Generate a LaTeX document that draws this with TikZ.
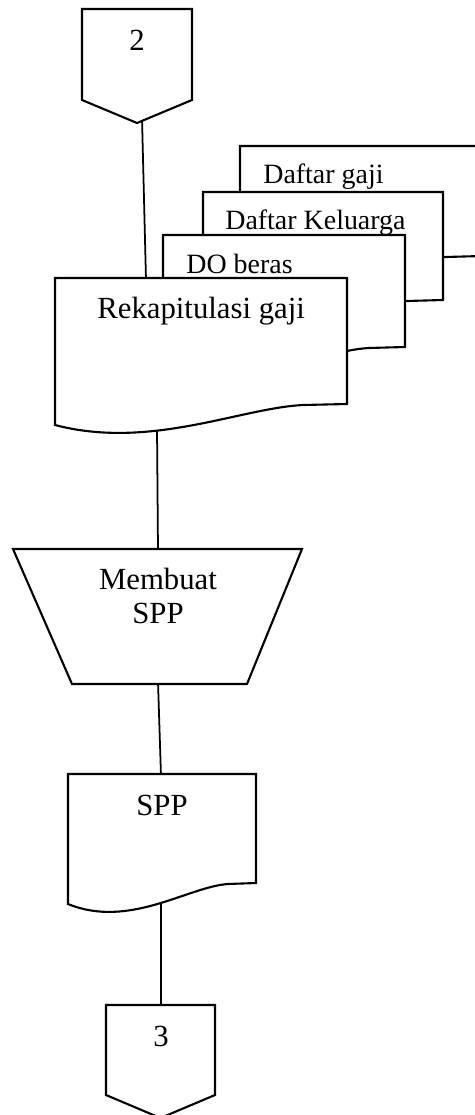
\documentclass[tikz,border=0pt]{standalone}
\usepackage{fontspec}
\setmainfont{Liberation Serif}
\usetikzlibrary{backgrounds}

\tikzset{
    outline/.style={draw=black, line width=1.2pt, fill=white, line join=miter},
    flowline/.style={draw=black, line width=1pt},
    bigtext/.style={font=\fontsize{17.5}{19.8}\selectfont, inner sep=0pt},
    doctext/.style={font=\fontsize{15.9}{18}\selectfont, inner sep=0pt, anchor=base west},
}

% document symbol: left, top, right, bottom (right corner)
\newcommand{\docshape}[4]{%
    \draw[outline] (#1,#2) -- (#3,#2) -- (#3,#4) -- ({#3-0.15*(#3-#1)},{#4+1})
        .. controls ({#1+0.635*(#3-#1)},{#4+4}) and ({#1+0.325*(#3-#1)},{#4+46}) .. (#1,{#4+21}) -- cycle;
}
% off-page connector: left, top, right, side bottom
\newcommand{\offpage}[4]{%
    \draw[outline] (#1,#2) -- (#3,#2) -- (#3,#4) -- ({(#1+#3)/2},{#4+23}) -- (#1,#4) -- cycle;
}

\begin{document}
\begin{tikzpicture}[x=0.02cm, y=-0.02cm]
    \useasboundingbox (0,0) rectangle (475,1115);
    \clip (0,0) rectangle (475,1115);

    % connector 2
    \offpage{82}{9}{192}{100}
    \node[bigtext] (c2) at (137,40) {2};

    % stacked documents, back to front
    \docshape{240}{146}{482}{256}
    \node[doctext] (gaji) at (263,183) {Daftar gaji};
    \docshape{203}{192}{443}{300}
    \node[doctext] (keluarga) at (225,229) {Daftar Keluarga};
    \docshape{163}{235}{405}{347}
    \node[doctext] (beras) at (186,273) {DO beras};
    \docshape{55}{278}{347}{404}
    \node[bigtext, anchor=base west] (rekap) at (97,318) {Rekapitulasi gaji};

    % manual process
    \draw[outline] (13,549) -- (302,549) -- (247,684) -- (72,684) -- cycle;
    \node[bigtext, align=center] (membuat) at (158,596) {Membuat\\SPP};

    % output document
    \docshape{68}{774}{256}{883}
    \node[bigtext, anchor=base] (spp) at (162,815) {SPP};

    % connector 3
    \offpage{106}{1005}{215}{1095}
    \node[bigtext] (c3) at (161,1036) {3};

    % flow lines
    \coordinate (c2-out) at (142,118);
    \coordinate (rekap-in) at (146,280);
    \coordinate (rekap-out) at (157,428);
    \coordinate (membuat-in) at (158,551);
    \coordinate (membuat-out) at (158,682);
    \coordinate (spp-in) at (161,776);
    \coordinate (spp-out) at (161,898);
    \coordinate (c3-in) at (161,1007);
    \begin{scope}[on background layer]
        \draw[flowline] (c2-out) -- (rekap-in);
        \draw[flowline] (rekap-out) -- (membuat-in);
        \draw[flowline] (membuat-out) -- (spp-in);
        \draw[flowline] (spp-out) -- (c3-in);
    \end{scope}
\end{tikzpicture}
\end{document}
